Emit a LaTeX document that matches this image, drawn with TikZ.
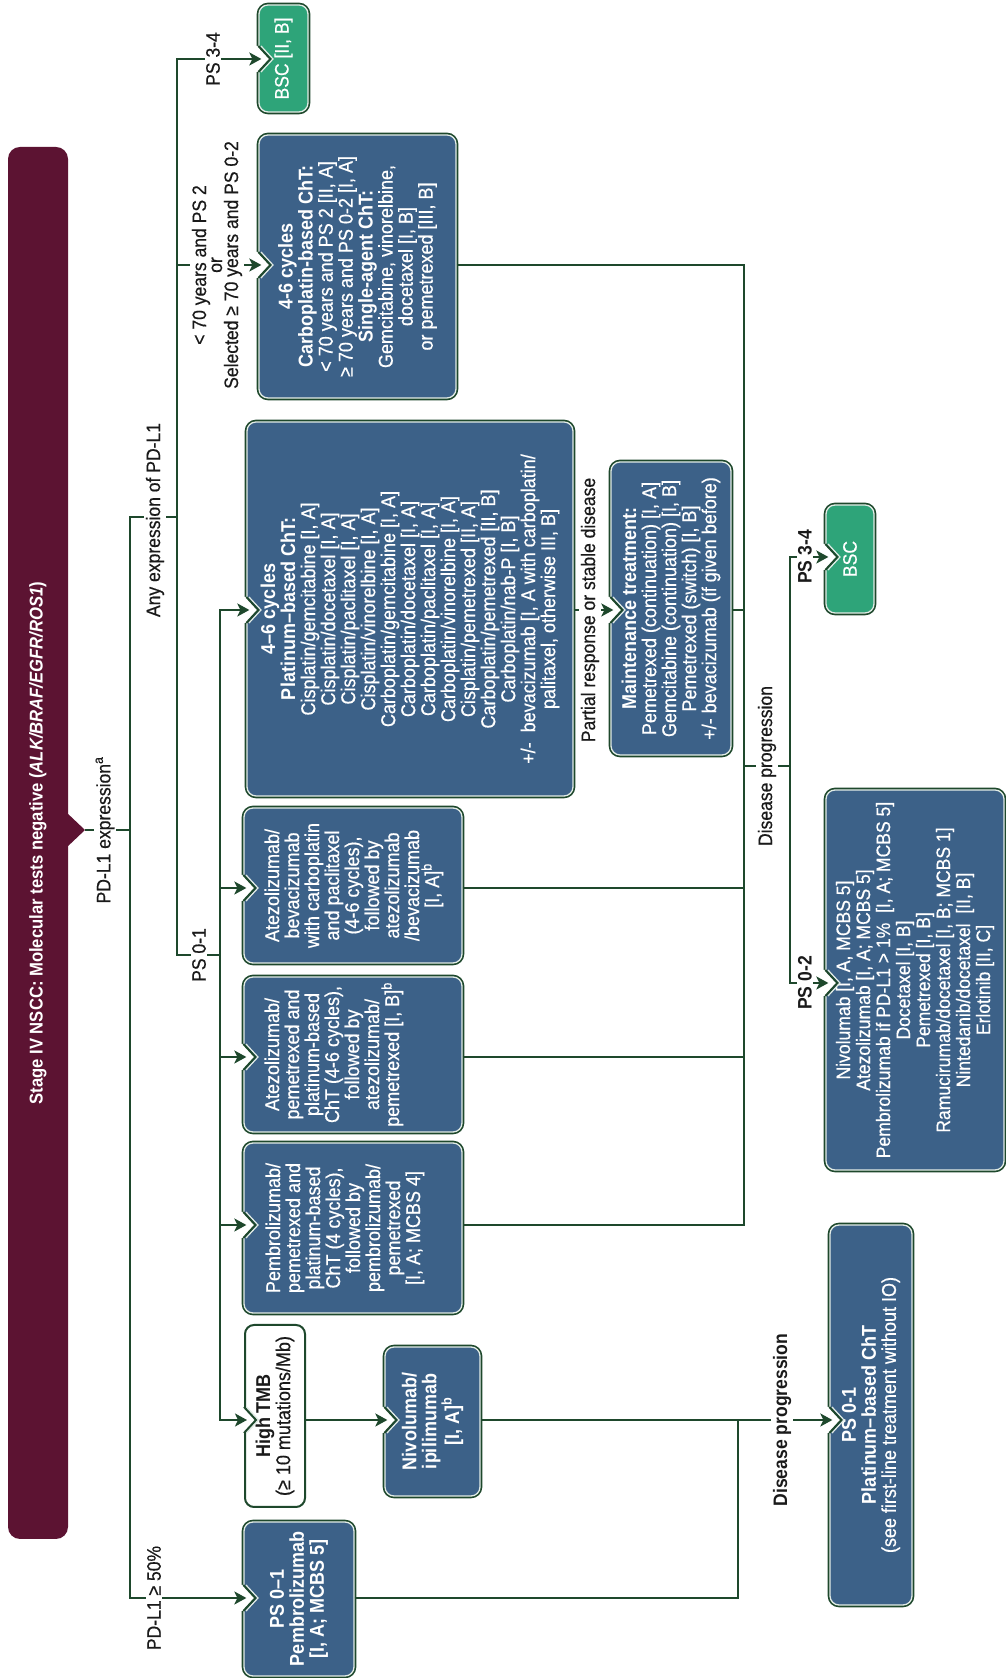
\documentclass[tikz,border=0pt]{standalone}
\usepackage{fontspec}
\setmainfont{Liberation Sans}[FakeStretch=0.9, UprightFeatures={FakeBold=0.5}]
\usetikzlibrary{arrows.meta,calc}

\definecolor{lineg}{RGB}{30,72,44}
\definecolor{boxblue}{RGB}{60,97,136}
\definecolor{bscgreen}{RGB}{46,164,121}
\definecolor{titlered}{RGB}{92,19,50}
\definecolor{innerl}{RGB}{226,236,230}
\definecolor{labtext}{RGB}{26,26,26}

\newcommand{\boxfont}{\fontsize{20pt}{20pt}\selectfont}
\newcommand{\listfont}{\fontsize{19.5pt}{20pt}\selectfont}
\newcommand{\labfont}{\fontsize{19.5pt}{20pt}\selectfont}
\newcommand{\titlefont}{\fontsize{18.5pt}{20pt}\selectfont\bfseries}

\tikzset{
  conn/.style={draw=lineg, line width=2pt},
  arr/.style={-{Stealth[length=12pt,width=13pt,inset=3pt]}},
  sz/.style 2 args={minimum width=#1pt, minimum height=#2pt},
  panel/.style={rounded corners=9pt, fill=boxblue, draw=innerl, line width=1.3pt,
    preaction={draw=lineg, line width=4.6pt}, text=white, align=center,
    inner sep=0pt, font=\boxfont},
  paneltext/.style={text=white, align=center, inner sep=0pt, font=\boxfont, anchor=north},
  bscbox/.style={panel, fill=bscgreen, font=\labfont},
  plainbox/.style={rounded corners=9pt, fill=white, draw=lineg, line width=2pt,
    text=labtext, align=center, inner sep=0pt, font=\boxfont},
  titlebar/.style={fill=titlered, rounded corners=12pt, text=white,
    font=\titlefont, inner sep=0pt},
  lab/.style={fill=white, inner sep=1.5pt, text=labtext, align=center, font=\labfont},
  boldlab/.style={lab, font=\labfont\bfseries},
}

% V-shaped entry notch on the top side of a box; #1 box, #2 coordinate giving
% the position along the side, #3 name of the arrow target inside the notch
\newcommand{\boxnotch}[3]{%
  \coordinate (nt-#1) at (#2 |- #1.north);
  \fill[white] ($(nt-#1)+(-13,3)$) -- ($(nt-#1)+(-13,0)$) -- ($(nt-#1)+(0,-12)$)
    -- ($(nt-#1)+(13,0)$) -- ($(nt-#1)+(13,3)$) -- cycle;
  \draw[innerl, line width=1.3pt] ($(nt-#1)+(-13,-2.6)$) -- ($(nt-#1)+(0,-14.6)$)
    -- ($(nt-#1)+(13,-2.6)$);
  \draw[lineg, line width=2pt] ($(nt-#1)+(-13,0)$) -- ($(nt-#1)+(0,-12)$)
    -- ($(nt-#1)+(13,0)$);
  \coordinate (#3) at ($(nt-#1)+(0,-3)$);
}

\begin{document}
\begin{tikzpicture}[x=1pt,y=1pt]
\useasboundingbox (0,0) rectangle (1005,1678);
\begin{scope}[rotate=90, transform shape]

% ---- title bar with its pointer
\node[titlebar, sz={1392}{60}] (title) at (835,-38)
  {Stage IV NSCC: Molecular tests negative (\textit{ALK/BRAF/EGFR/ROS1})};
\fill[titlered] (830,-66) -- (848,-85) -- (866,-66) -- cycle;
\coordinate (tip) at (848,-85);

% ---- boxes
\node[bscbox, sz={107}{49}] (bscA) at (1619.5,-283.5) {BSC [II, B]};
\node[panel, sz={263}{197}] (boxA) at (1411.5,-357.5)
  {\textbf{4-6 cycles}\\ \textbf{Carboplatin-based ChT:}\\
   < 70 years and PS 2 [II, A]\\ ≥ 70 years and PS 0-2 [I, A]\\
   \textbf{Single-agent ChT:}\\ Gemcitabine, vinorelbine,\\
   docetaxel [I, B]\\ or pemetrexed [III, B]};
\node[panel, sz={374}{326}] (boxB) at (1069,-410)
  {\textbf{4–6 cycles}\\ \textbf{Platinum–based ChT:}\\
   Cisplatin/gemcitabine [I, A]\\ Cisplatin/docetaxel [I, A]\\
   Cisplatin/paclitaxel [I, A]\\ Cisplatin/vinorelbine [I, A]\\
   Carboplatin/gemcitabine [I, A]\\ Carboplatin/docetaxel [I, A]\\
   Carboplatin/paclitaxel [I, A]\\ Carboplatin/vinorelbine [I, A]\\
   Cisplatin/pemetrexed [II, A]\\ Carboplatin/pemetrexed [II, B]\\
   Carboplatin/nab-P [I, B]\\ +/-\ \ bevacizumab [I, A with carboplatin/\\
   palitaxel, otherwise III, B]};

% the three immunotherapy combination boxes carry top-aligned text
\node[panel, sz={155}{218}] (ab) at (792.5,-353) {};
\node[paneltext] (abText) at ($(ab.north)+(0,-21)$)
  {Atezolizumab/\\ bevacizumab\\ with carboplatin\\ and paclitaxel\\
   (4-6 cycles),\\ followed by\\ atezolizumab\\ /bevacizumab\\{}[I, A]\textsuperscript{b}};
\node[panel, sz={155}{218}] (ap) at (623.5,-353) {};
\node[paneltext] (apText) at ($(ap.north)+(0,-21)$)
  {Atezolizumab/\\ pemetrexed and\\ platinum-based\\ ChT (4-6 cycles),\\
   followed by\\ atezolizumab/\\ pemetrexed [I, B]\textsuperscript{b}};
\node[panel, sz={170}{218}] (pp) at (450,-353) {};
\node[paneltext] (ppText) at ($(pp.north)+(0,-22)$)
  {Pembrolizumab/\\ pemetrexed and\\ platinum-based\\ ChT (4 cycles),\\
   followed by\\ pembrolizumab/\\ pemetrexed\\{}[I, A; MCBS 4]};

\node[plainbox, sz={182}{60}] (tmb) at (262,-275)
  {\textbf{High TMB}\\ (≥ 10 mutations/Mb)};
\node[panel, sz={149}{95}, font=\boxfont\bfseries] (nivo) at (256.5,-432.5)
  {Nivolumab/\\ ipilimumab\\{}[I, A]\textsuperscript{b}};
\node[panel, sz={154}{110}, font=\boxfont\bfseries] (pemb) at (79,-299)
  {PS 0–1\\ Pembrolizumab\\{}[I, A; MCBS 5]};
\node[panel, sz={293}{120}] (boxC) at (1069.5,-671)
  {\textbf{Maintenance treatment:}\\ Pemetrexed (continuation) [I, A]\\
   Gemcitabine (continuation) [I, B]\\ Pemetrexed (switch) [I, B]\\
   +/- bevacizumab (if given before)};
\node[bscbox, sz={108}{48}] (bscB) at (1119,-850) {BSC};
\node[panel, sz={380}{178}, font=\listfont] (boxD) at (698,-915)
  {Nivolumab [I, A, MCBS 5]\\ Atezolizumab [I, A; MCBS 5]\\
   Pembrolizumab if PD-L1 > 1\%\ \ [I, A; MCBS 5]\\ Docetaxel [I, B]\\
   Pemetrexed [I, B]\\ Ramucirumab/docetaxel [I, B; MCBS 1]\\
   Nintedanib/docetaxel\ \ [II, B]\\ Erlotinib [II, C]};
\node[panel, sz={380}{82}] (boxE) at (263,-871)
  {\textbf{PS 0-1}\\ \textbf{Platinum–based ChT}\\ (see first-line treatment without IO)};

% ---- branch points of the connector tree
\coordinate (tL) at (80,-130);
\coordinate (tR) at (1161,-130);
\coordinate (l2L) at (723,-177);
\coordinate (l2M) at (1413,-177);
\coordinate (l2R) at (1619,-177);
\coordinate (l3L) at (258,-220);
\coordinate (l3pp) at (453,-220);
\coordinate (l3ap) at (621,-220);
\coordinate (l3ab) at (790,-220);
\coordinate (l3R) at (1068,-220);
\coordinate (c1L) at (453,-744);
\coordinate (c1R) at (1413,-744);
\coordinate (dp) at (912,-744);
\coordinate (c2L) at (695,-790);
\coordinate (c2R) at (1121,-790);
\coordinate (c3L) at (80,-738);
\coordinate (c3R) at (258,-738);

% ---- entry notches
\boxnotch{pemb}{tL}{inP}
\boxnotch{bscA}{l2R}{inS1}
\boxnotch{boxA}{l2M}{inA}
\boxnotch{boxB}{l3R}{inB}
\boxnotch{ab}{l3ab}{inAB}
\boxnotch{ap}{l3ap}{inAP}
\boxnotch{pp}{l3pp}{inPP}
\boxnotch{tmb}{l3L}{inT}
\boxnotch{nivo}{l3L}{inN}
\boxnotch{boxC}{l3R}{inC}
\boxnotch{bscB}{c2R}{inS2}
\boxnotch{boxD}{c2L}{inD}
\boxnotch{boxE}{l3L}{inE}

% ---- connectors
\draw[conn] (tip) -- (tip |- tL);
\draw[conn,arr] (tR |- l2L) -- (tR) -- (tL) -- (inP);
\draw[conn,arr] (l2L |- l3L) -- (l2L) -- (l2R) -- (inS1);
\draw[conn,arr] (l2M) -- (inA);
\draw[conn,arr] (l2L |- l3L) -- (l3R) -- (inB);
\draw[conn,arr] (l2L |- l3L) -- (l3L) -- (inT);
\draw[conn,arr] (l3ab) -- (inAB);
\draw[conn,arr] (l3ap) -- (inAP);
\draw[conn,arr] (l3pp) -- (inPP);
\draw[conn,arr] (l3L |- tmb.south) -- (inN);
\draw[conn,arr] (l3R |- boxB.south) -- (inC);
\draw[conn] (l2M |- boxA.south) -- (c1R) -- (c1L) -- (l3pp |- pp.south);
\draw[conn] (l3R |- boxC.south) -- (l3R |- c1L);
\draw[conn] (l3ab |- ab.south) -- (l3ab |- c1L);
\draw[conn] (l3ap |- ap.south) -- (l3ap |- c1L);
\draw[conn] (dp) -- (dp |- c2L);
\draw[conn,arr] (c2R) -- (c2L) -- (inD);
\draw[conn,arr] (c2L) -- (c2R) -- (inS2);
\draw[conn,arr] (l3L |- nivo.south) -- (inE);
\draw[conn] (tL |- pemb.south) -- (c3L) -- (c3R);

% ---- connector labels
\node[lab] (labExpr) at (848,-105) {PD-L1 expression\textsuperscript{a}};
\node[lab] (labAny) at (1158,-155) {Any expression of PD-L1};
\node[lab] (labHigh) at (80,-154) {PD-L1 ≥ 50\%};
\node[lab] (labPSa) at (1619,-213) {PS 3-4};
\node[lab, font=\fontsize{19.5pt}{16pt}\selectfont] (labAge) at (1413,-217)
  {< 70 years and PS 2\\ or\\ Selected ≥ 70 years and PS 0-2};
\node[lab] (labPSb) at (723,-199) {PS 0-1};
\node[lab] (labResp) at (1068,-590) {Partial response or stable disease};
\node[lab] (labProg) at (912,-767) {Disease progression};
\node[boldlab] (labPSc) at (1121,-805) {PS 3-4};
\node[boldlab] (labPSd) at (695,-805) {PS 0-2};
\node[boldlab] (labProgB) at (258,-782) {Disease progression};

\end{scope}
\end{tikzpicture}
\end{document}
